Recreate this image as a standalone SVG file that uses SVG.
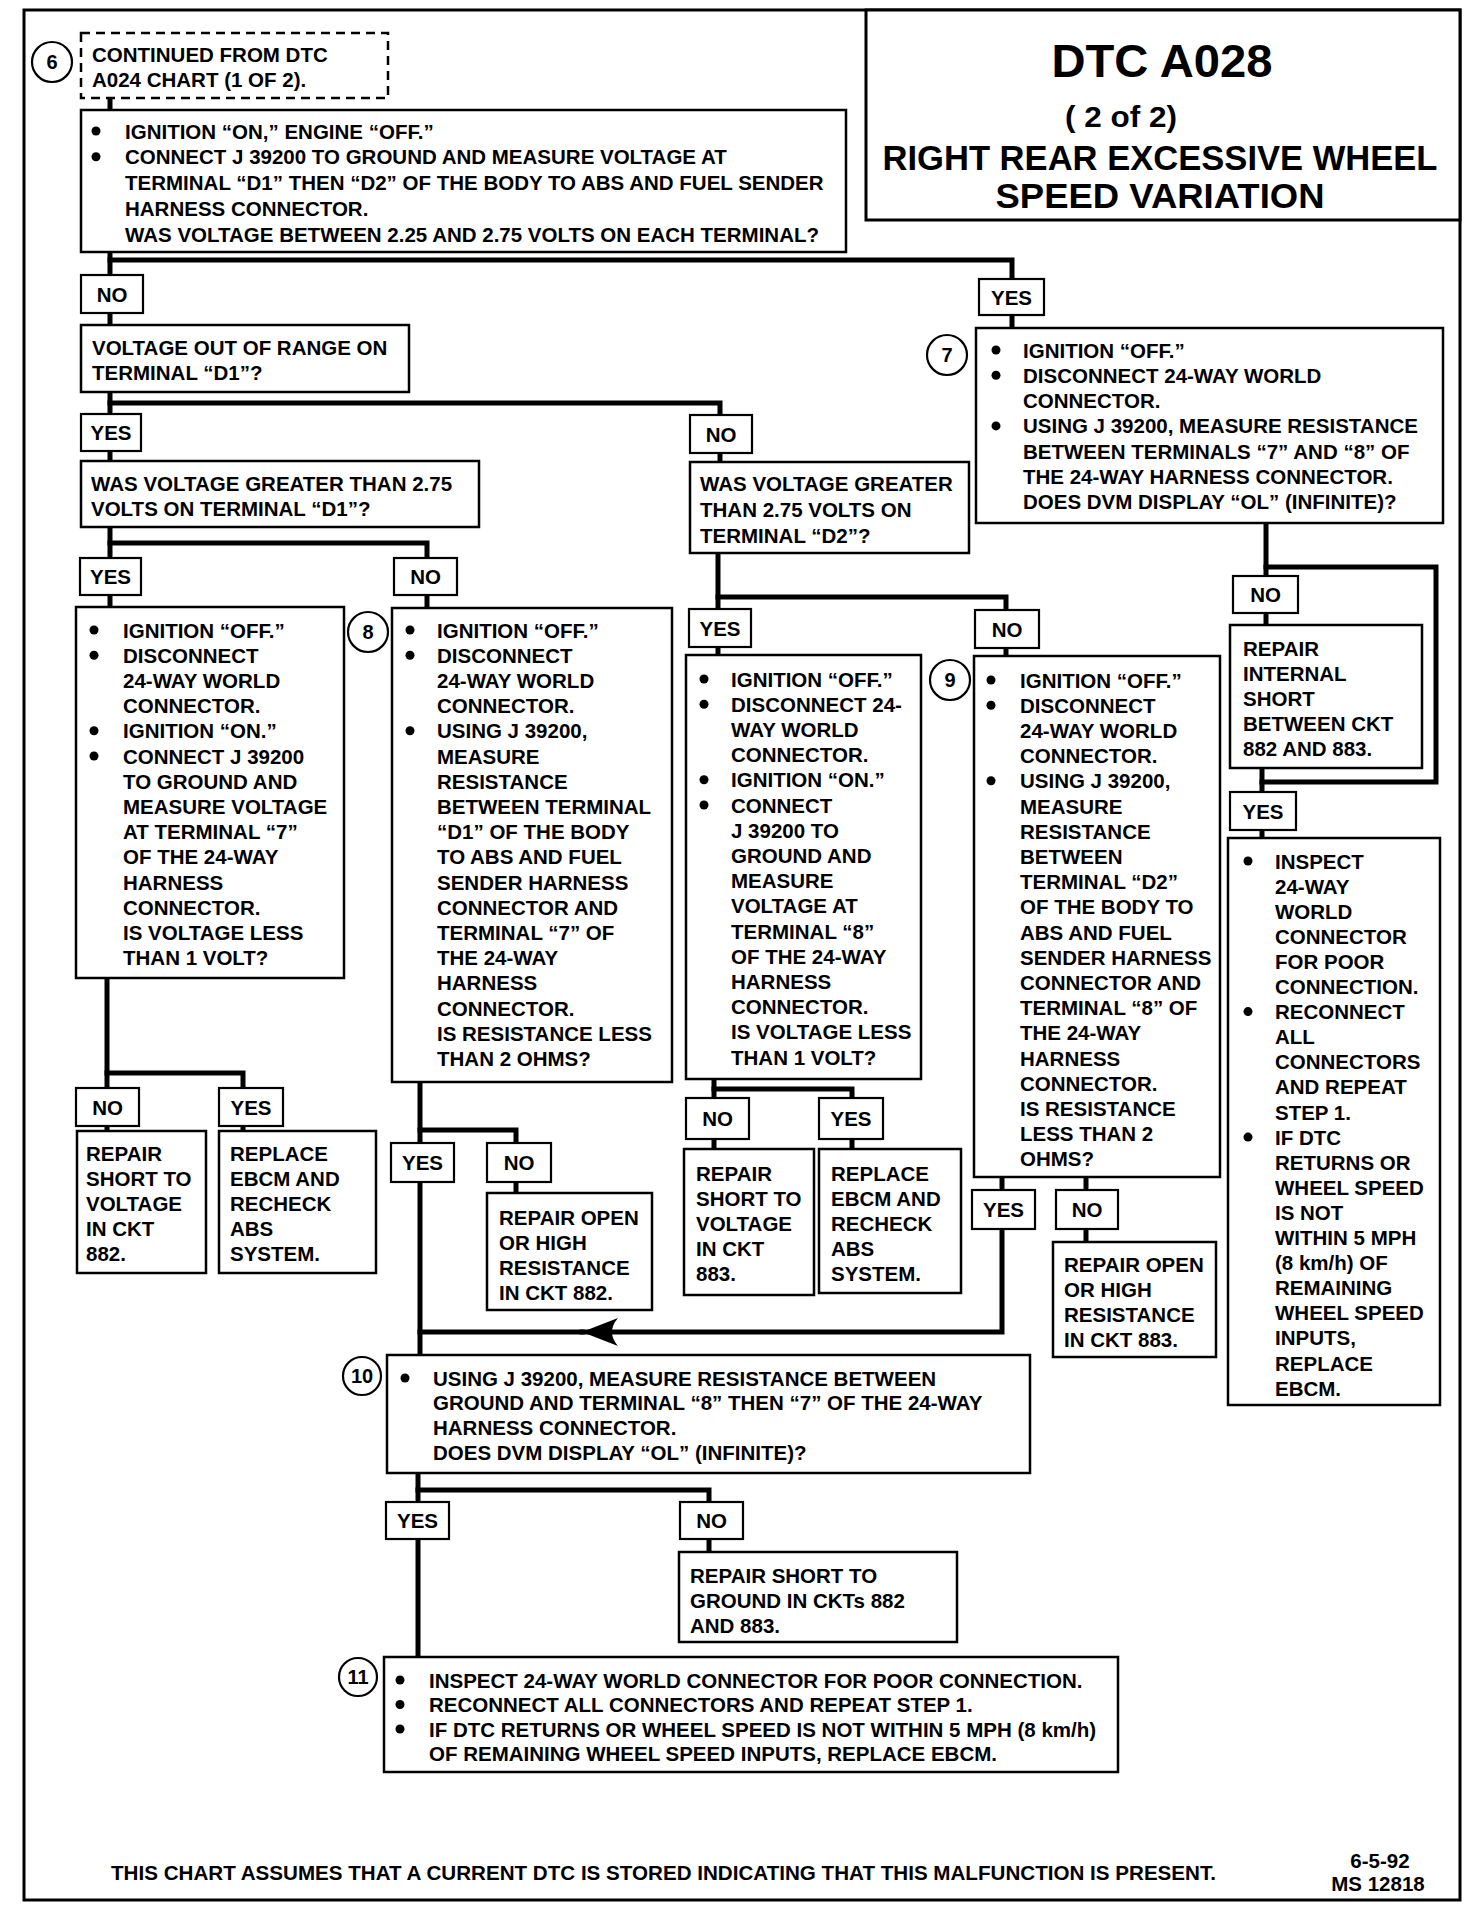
<svg xmlns="http://www.w3.org/2000/svg" width="1472" height="1914" viewBox="0 0 1472 1914">
<defs>
<style>
.box{fill:#fff;stroke:#000;stroke-width:2.5}
.dash{fill:#fff;stroke:#000;stroke-width:2.5;stroke-dasharray:9 6}
.lbl{fill:#fff;stroke:#000;stroke-width:2.2}
.cir{fill:#fff;stroke:#000;stroke-width:2.2}
.b{fill:#000}
.t{font-family:"Liberation Sans",Arial,sans-serif;font-weight:bold;font-size:20.5px;fill:#000}
.lt{font-family:"Liberation Sans",Arial,sans-serif;font-weight:bold;font-size:20.5px;fill:#000;text-anchor:middle}
.ct{font-family:"Liberation Sans",Arial,sans-serif;font-weight:bold;font-size:20px;fill:#000;text-anchor:middle}
.ti{font-family:"Liberation Sans",Arial,sans-serif;font-weight:bold;fill:#000;text-anchor:middle}
.conn{fill:none;stroke:#000;stroke-width:5;stroke-linecap:square}
</style>
<marker id="arr" markerUnits="userSpaceOnUse" markerWidth="40" markerHeight="32" viewBox="0 0 40 32" refX="38" refY="16" orient="auto">
<path d="M38,16 L2,2 Q14,16 2,30 Z" fill="#000"/>
</marker>
</defs>
<rect x="0" y="0" width="1472" height="1914" fill="#fff"/>
<rect x="24" y="10" width="1436" height="1890" fill="none" stroke="#000" stroke-width="3"/>

<g id="connectors">
<path class="conn" d="M110,98 V110"/>
<path class="conn" d="M110,252 V276"/>
<path class="conn" d="M110,260 H1012 V279"/>
<path class="conn" d="M1012,315 V328"/>
<path class="conn" d="M110,313 V325"/>
<path class="conn" d="M110,391 V414"/>
<path class="conn" d="M110,403 H720 V415"/>
<path class="conn" d="M110,450 V461"/>
<path class="conn" d="M720,453 V462"/>
<path class="conn" d="M110,527 V558"/>
<path class="conn" d="M110,543 H427 V558"/>
<path class="conn" d="M110,595 V607"/>
<path class="conn" d="M427,595 V608"/>
<path class="conn" d="M718,552 V609"/>
<path class="conn" d="M718,597 H1006 V610"/>
<path class="conn" d="M718,647 V656"/>
<path class="conn" d="M1006,648 V657"/>
<path class="conn" d="M1266,523 V576"/>
<path class="conn" d="M1266,567 H1436 V782 H1262"/>
<path class="conn" d="M1266,613 V625"/>
<path class="conn" d="M1262,768 V792"/>
<path class="conn" d="M1262,830 V838"/>
<path class="conn" d="M107,978 V1088"/>
<path class="conn" d="M107,1073 H243 V1088"/>
<path class="conn" d="M107,1126 V1131"/>
<path class="conn" d="M243,1126 V1131"/>
<path class="conn" d="M420,1082 V1143"/>
<path class="conn" d="M420,1130 H516 V1143"/>
<path class="conn" d="M516,1182 V1193"/>
<path class="conn" d="M420,1182 V1355"/>
<path class="conn" d="M1002,1229 V1332 H582" marker-end="url(#arr)"/>
<path class="conn" d="M582,1332 H420"/>
<path class="conn" d="M714,1079 V1098"/>
<path class="conn" d="M714,1089 H852 V1098"/>
<path class="conn" d="M714,1139 V1149"/>
<path class="conn" d="M852,1139 V1149"/>
<path class="conn" d="M1002,1177 V1190"/>
<path class="conn" d="M1086,1177 V1190"/>
<path class="conn" d="M1086,1229 V1242"/>
<path class="conn" d="M418,1473 V1502"/>
<path class="conn" d="M418,1490 H709 V1502"/>
<path class="conn" d="M709,1539 V1552"/>
<path class="conn" d="M418,1539 V1657"/>
</g>

<g id="title">
<rect x="866" y="10" width="594" height="210" fill="#fff" stroke="#000" stroke-width="3"/>
<text class="ti" x="1162" y="77" font-size="46" textLength="221" lengthAdjust="spacingAndGlyphs">DTC A028</text>
<text class="ti" x="1121" y="127" font-size="29" textLength="112" lengthAdjust="spacingAndGlyphs">( 2 of 2)</text>
<text class="ti" x="1160" y="170" font-size="35" textLength="555" lengthAdjust="spacingAndGlyphs">RIGHT REAR EXCESSIVE WHEEL</text>
<text class="ti" x="1160" y="208" font-size="35" textLength="329" lengthAdjust="spacingAndGlyphs">SPEED VARIATION</text>
</g>

<g id="step6">
<rect class="dash" x="81" y="33" width="307" height="65"/>
<circle class="cir" cx="52" cy="62" r="20"/>
<text class="ct" x="52" y="69">6</text>
<text class="t"><tspan x="92" y="62">CONTINUED FROM DTC</tspan><tspan x="92" y="86.5">A024 CHART (1 OF 2).</tspan></text>
</g>

<g id="n1">
<rect class="box" x="81" y="110" width="765" height="142"/>
<circle class="b" cx="96" cy="131" r="4.5"/>
<circle class="b" cx="96" cy="156.8" r="4.5"/>
<text class="t"><tspan x="125" y="138.5">IGNITION “ON,” ENGINE “OFF.”</tspan><tspan x="125" dy="25.8">CONNECT J 39200 TO GROUND AND MEASURE VOLTAGE AT</tspan><tspan x="125" dy="25.8">TERMINAL “D1” THEN “D2” OF THE BODY TO ABS AND FUEL SENDER</tspan><tspan x="125" dy="25.8">HARNESS CONNECTOR.</tspan><tspan x="125" dy="25.8">WAS VOLTAGE BETWEEN 2.25 AND 2.75 VOLTS ON EACH TERMINAL?</tspan></text>
</g>

<g id="l-no1"><rect class="lbl" x="81" y="275" width="62" height="38"/><text class="lt" x="112" y="301.5">NO</text></g>
<g id="l-yes1"><rect class="lbl" x="979" y="279" width="65" height="36"/><text class="lt" x="1011.5" y="304.5">YES</text></g>

<g id="n-d1range">
<rect class="box" x="81" y="325" width="328" height="67"/>
<text class="t"><tspan x="92" y="355">VOLTAGE OUT OF RANGE ON</tspan><tspan x="92" y="380">TERMINAL “D1”?</tspan></text>
</g>

<g id="step7">
<rect class="box" x="976" y="328" width="467" height="195"/>
<circle class="cir" cx="947" cy="355" r="20"/>
<text class="ct" x="947" y="362">7</text>
<circle class="b" cx="996" cy="350" r="4.5"/>
<circle class="b" cx="996" cy="375.3" r="4.5"/>
<circle class="b" cx="996" cy="425.9" r="4.5"/>
<text class="t"><tspan x="1023" y="357.5">IGNITION “OFF.”</tspan><tspan x="1023" dy="25.3">DISCONNECT 24-WAY WORLD</tspan><tspan x="1023" dy="25.3">CONNECTOR.</tspan><tspan x="1023" dy="25.3">USING J 39200, MEASURE RESISTANCE</tspan><tspan x="1023" dy="25.3">BETWEEN TERMINALS “7” AND “8” OF</tspan><tspan x="1023" dy="25.3">THE 24-WAY HARNESS CONNECTOR.</tspan><tspan x="1023" dy="25.3">DOES DVM DISPLAY “OL” (INFINITE)?</tspan></text>
</g>

<g id="l-yes2"><rect class="lbl" x="81" y="414" width="60" height="37"/><text class="lt" x="111" y="440">YES</text></g>
<g id="l-no2"><rect class="lbl" x="690" y="415" width="62" height="38"/><text class="lt" x="721" y="441.5">NO</text></g>

<g id="n-d1gt">
<rect class="box" x="81" y="461" width="398" height="66"/>
<text class="t"><tspan x="91" y="491">WAS VOLTAGE GREATER THAN 2.75</tspan><tspan x="91" y="516">VOLTS ON TERMINAL “D1”?</tspan></text>
</g>

<g id="n-d2gt">
<rect class="box" x="690" y="462" width="279" height="91"/>
<text class="t"><tspan x="700" y="491">WAS VOLTAGE GREATER</tspan><tspan x="700" dy="26">THAN 2.75 VOLTS ON</tspan><tspan x="700" dy="26">TERMINAL “D2”?</tspan></text>
</g>

<g id="l-yes3"><rect class="lbl" x="80" y="558" width="61" height="37"/><text class="lt" x="110.5" y="584">YES</text></g>
<g id="l-no3"><rect class="lbl" x="394" y="558" width="63" height="37"/><text class="lt" x="425.5" y="584">NO</text></g>
<g id="l-yes4"><rect class="lbl" x="689" y="609" width="62" height="38"/><text class="lt" x="720" y="635.5">YES</text></g>
<g id="l-no4"><rect class="lbl" x="975" y="610" width="64" height="38"/><text class="lt" x="1007" y="636.5">NO</text></g>
<g id="l-no5"><rect class="lbl" x="1233" y="576" width="65" height="37"/><text class="lt" x="1265.5" y="602">NO</text></g>

<g id="n-ign7">
<rect class="box" x="76" y="607" width="268" height="371"/>
<circle class="b" cx="94" cy="630" r="4.5"/>
<circle class="b" cx="94" cy="655.2" r="4.5"/>
<circle class="b" cx="94" cy="730.8" r="4.5"/>
<circle class="b" cx="94" cy="756" r="4.5"/>
<text class="t"><tspan x="123" y="637.5">IGNITION “OFF.”</tspan><tspan x="123" dy="25.2">DISCONNECT</tspan><tspan x="123" dy="25.2">24-WAY WORLD</tspan><tspan x="123" dy="25.2">CONNECTOR.</tspan><tspan x="123" dy="25.2">IGNITION “ON.”</tspan><tspan x="123" dy="25.2">CONNECT J 39200</tspan><tspan x="123" dy="25.2">TO GROUND AND</tspan><tspan x="123" dy="25.2">MEASURE VOLTAGE</tspan><tspan x="123" dy="25.2">AT TERMINAL “7”</tspan><tspan x="123" dy="25.2">OF THE 24-WAY</tspan><tspan x="123" dy="25.2">HARNESS</tspan><tspan x="123" dy="25.2">CONNECTOR.</tspan><tspan x="123" dy="25.2">IS VOLTAGE LESS</tspan><tspan x="123" dy="25.2">THAN 1 VOLT?</tspan></text>
</g>

<g id="step8">
<rect class="box" x="392" y="608" width="280" height="474"/>
<circle class="cir" cx="368" cy="632" r="20"/>
<text class="ct" x="368" y="639">8</text>
<circle class="b" cx="410" cy="630" r="4.5"/>
<circle class="b" cx="410" cy="655.2" r="4.5"/>
<circle class="b" cx="410" cy="730.8" r="4.5"/>
<text class="t"><tspan x="437" y="637.5">IGNITION “OFF.”</tspan><tspan x="437" dy="25.2">DISCONNECT</tspan><tspan x="437" dy="25.2">24-WAY WORLD</tspan><tspan x="437" dy="25.2">CONNECTOR.</tspan><tspan x="437" dy="25.2">USING J 39200,</tspan><tspan x="437" dy="25.2">MEASURE</tspan><tspan x="437" dy="25.2">RESISTANCE</tspan><tspan x="437" dy="25.2">BETWEEN TERMINAL</tspan><tspan x="437" dy="25.2">“D1” OF THE BODY</tspan><tspan x="437" dy="25.2">TO ABS AND FUEL</tspan><tspan x="437" dy="25.2">SENDER HARNESS</tspan><tspan x="437" dy="25.2">CONNECTOR AND</tspan><tspan x="437" dy="25.2">TERMINAL “7” OF</tspan><tspan x="437" dy="25.2">THE 24-WAY</tspan><tspan x="437" dy="25.2">HARNESS</tspan><tspan x="437" dy="25.2">CONNECTOR.</tspan><tspan x="437" dy="25.2">IS RESISTANCE LESS</tspan><tspan x="437" dy="25.2">THAN 2 OHMS?</tspan></text>
</g>

<g id="n-ign8">
<rect class="box" x="686" y="655" width="235" height="424"/>
<circle class="b" cx="704" cy="679" r="4.5"/>
<circle class="b" cx="704" cy="704.2" r="4.5"/>
<circle class="b" cx="704" cy="779.8" r="4.5"/>
<circle class="b" cx="704" cy="805" r="4.5"/>
<text class="t"><tspan x="731" y="686.5">IGNITION “OFF.”</tspan><tspan x="731" dy="25.2">DISCONNECT 24-</tspan><tspan x="731" dy="25.2">WAY WORLD</tspan><tspan x="731" dy="25.2">CONNECTOR.</tspan><tspan x="731" dy="25.2">IGNITION “ON.”</tspan><tspan x="731" dy="25.2">CONNECT</tspan><tspan x="731" dy="25.2">J 39200 TO</tspan><tspan x="731" dy="25.2">GROUND AND</tspan><tspan x="731" dy="25.2">MEASURE</tspan><tspan x="731" dy="25.2">VOLTAGE AT</tspan><tspan x="731" dy="25.2">TERMINAL “8”</tspan><tspan x="731" dy="25.2">OF THE 24-WAY</tspan><tspan x="731" dy="25.2">HARNESS</tspan><tspan x="731" dy="25.2">CONNECTOR.</tspan><tspan x="731" dy="25.2">IS VOLTAGE LESS</tspan><tspan x="731" dy="25.2">THAN 1 VOLT?</tspan></text>
</g>

<g id="step9">
<rect class="box" x="974" y="656" width="246" height="521"/>
<circle class="cir" cx="950" cy="680" r="20"/>
<text class="ct" x="950" y="687">9</text>
<circle class="b" cx="991" cy="680" r="4.5"/>
<circle class="b" cx="991" cy="705.2" r="4.5"/>
<circle class="b" cx="991" cy="780.8" r="4.5"/>
<text class="t"><tspan x="1020" y="687.5">IGNITION “OFF.”</tspan><tspan x="1020" dy="25.2">DISCONNECT</tspan><tspan x="1020" dy="25.2">24-WAY WORLD</tspan><tspan x="1020" dy="25.2">CONNECTOR.</tspan><tspan x="1020" dy="25.2">USING J 39200,</tspan><tspan x="1020" dy="25.2">MEASURE</tspan><tspan x="1020" dy="25.2">RESISTANCE</tspan><tspan x="1020" dy="25.2">BETWEEN</tspan><tspan x="1020" dy="25.2">TERMINAL “D2”</tspan><tspan x="1020" dy="25.2">OF THE BODY TO</tspan><tspan x="1020" dy="25.2">ABS AND FUEL</tspan><tspan x="1020" dy="25.2">SENDER HARNESS</tspan><tspan x="1020" dy="25.2">CONNECTOR AND</tspan><tspan x="1020" dy="25.2">TERMINAL “8” OF</tspan><tspan x="1020" dy="25.2">THE 24-WAY</tspan><tspan x="1020" dy="25.2">HARNESS</tspan><tspan x="1020" dy="25.2">CONNECTOR.</tspan><tspan x="1020" dy="25.2">IS RESISTANCE</tspan><tspan x="1020" dy="25.2">LESS THAN 2</tspan><tspan x="1020" dy="25.2">OHMS?</tspan></text>
</g>

<g id="n-internal">
<rect class="box" x="1230" y="625" width="192" height="143"/>
<text class="t"><tspan x="1243" y="655.5">REPAIR</tspan><tspan x="1243" dy="25">INTERNAL</tspan><tspan x="1243" dy="25">SHORT</tspan><tspan x="1243" dy="25">BETWEEN CKT</tspan><tspan x="1243" dy="25">882 AND 883.</tspan></text>
</g>

<g id="l-yes5"><rect class="lbl" x="1230" y="792" width="66" height="38"/><text class="lt" x="1263" y="818.5">YES</text></g>

<g id="n-inspect-r">
<rect class="box" x="1228" y="838" width="212" height="567"/>
<circle class="b" cx="1248" cy="861" r="4.5"/>
<circle class="b" cx="1248" cy="1011.6" r="4.5"/>
<circle class="b" cx="1248" cy="1137.1" r="4.5"/>
<text class="t"><tspan x="1275" y="868.5">INSPECT</tspan><tspan x="1275" dy="25.1">24-WAY</tspan><tspan x="1275" dy="25.1">WORLD</tspan><tspan x="1275" dy="25.1">CONNECTOR</tspan><tspan x="1275" dy="25.1">FOR POOR</tspan><tspan x="1275" dy="25.1">CONNECTION.</tspan><tspan x="1275" dy="25.1">RECONNECT</tspan><tspan x="1275" dy="25.1">ALL</tspan><tspan x="1275" dy="25.1">CONNECTORS</tspan><tspan x="1275" dy="25.1">AND REPEAT</tspan><tspan x="1275" dy="25.1">STEP 1.</tspan><tspan x="1275" dy="25.1">IF DTC</tspan><tspan x="1275" dy="25.1">RETURNS OR</tspan><tspan x="1275" dy="25.1">WHEEL SPEED</tspan><tspan x="1275" dy="25.1">IS NOT</tspan><tspan x="1275" dy="25.1">WITHIN 5 MPH</tspan><tspan x="1275" dy="25.1">(8 km/h) OF</tspan><tspan x="1275" dy="25.1">REMAINING</tspan><tspan x="1275" dy="25.1">WHEEL SPEED</tspan><tspan x="1275" dy="25.1">INPUTS,</tspan><tspan x="1275" dy="25.1">REPLACE</tspan><tspan x="1275" dy="25.1">EBCM.</tspan></text>
</g>

<g id="l-no6"><rect class="lbl" x="76" y="1088" width="63" height="38"/><text class="lt" x="107.5" y="1114.5">NO</text></g>
<g id="l-yes6"><rect class="lbl" x="219" y="1088" width="64" height="38"/><text class="lt" x="251" y="1114.5">YES</text></g>

<g id="n-short882">
<rect class="box" x="77" y="1131" width="129" height="142"/>
<text class="t"><tspan x="86" y="1160.5">REPAIR</tspan><tspan x="86" dy="25.2">SHORT TO</tspan><tspan x="86" dy="25.2">VOLTAGE</tspan><tspan x="86" dy="25.2">IN CKT</tspan><tspan x="86" dy="25.2">882.</tspan></text>
</g>

<g id="n-replace1">
<rect class="box" x="219" y="1131" width="157" height="142"/>
<text class="t"><tspan x="230" y="1160.5">REPLACE</tspan><tspan x="230" dy="25.2">EBCM AND</tspan><tspan x="230" dy="25.2">RECHECK</tspan><tspan x="230" dy="25.2">ABS</tspan><tspan x="230" dy="25.2">SYSTEM.</tspan></text>
</g>

<g id="l-yes7"><rect class="lbl" x="391" y="1143" width="63" height="39"/><text class="lt" x="422.5" y="1170">YES</text></g>
<g id="l-no7"><rect class="lbl" x="487" y="1143" width="64" height="39"/><text class="lt" x="519" y="1170">NO</text></g>

<g id="n-open882">
<rect class="box" x="487" y="1193" width="165" height="117"/>
<text class="t"><tspan x="499" y="1224.5">REPAIR OPEN</tspan><tspan x="499" dy="25.2">OR HIGH</tspan><tspan x="499" dy="25.2">RESISTANCE</tspan><tspan x="499" dy="25.2">IN CKT 882.</tspan></text>
</g>

<g id="l-no8"><rect class="lbl" x="686" y="1098" width="63" height="41"/><text class="lt" x="717.5" y="1126">NO</text></g>
<g id="l-yes8"><rect class="lbl" x="819" y="1098" width="64" height="41"/><text class="lt" x="851" y="1126">YES</text></g>

<g id="n-short883">
<rect class="box" x="684" y="1149" width="130" height="146"/>
<text class="t"><tspan x="696" y="1180.5">REPAIR</tspan><tspan x="696" dy="25.2">SHORT TO</tspan><tspan x="696" dy="25.2">VOLTAGE</tspan><tspan x="696" dy="25.2">IN CKT</tspan><tspan x="696" dy="25.2">883.</tspan></text>
</g>

<g id="n-replace2">
<rect class="box" x="819" y="1149" width="142" height="144"/>
<text class="t"><tspan x="831" y="1180.5">REPLACE</tspan><tspan x="831" dy="25.2">EBCM AND</tspan><tspan x="831" dy="25.2">RECHECK</tspan><tspan x="831" dy="25.2">ABS</tspan><tspan x="831" dy="25.2">SYSTEM.</tspan></text>
</g>

<g id="l-yes9"><rect class="lbl" x="972" y="1190" width="63" height="39"/><text class="lt" x="1003.5" y="1217">YES</text></g>
<g id="l-no9"><rect class="lbl" x="1056" y="1190" width="62" height="39"/><text class="lt" x="1087" y="1217">NO</text></g>

<g id="n-open883">
<rect class="box" x="1053" y="1242" width="163" height="115"/>
<text class="t"><tspan x="1064" y="1271.5">REPAIR OPEN</tspan><tspan x="1064" dy="25">OR HIGH</tspan><tspan x="1064" dy="25">RESISTANCE</tspan><tspan x="1064" dy="25">IN CKT 883.</tspan></text>
</g>

<g id="step10">
<rect class="box" x="387" y="1355" width="643" height="118"/>
<circle class="cir" cx="362" cy="1376" r="19"/>
<text class="ct" x="362" y="1383">10</text>
<circle class="b" cx="405" cy="1378" r="4.5"/>
<text class="t"><tspan x="433" y="1385.5">USING J 39200, MEASURE RESISTANCE BETWEEN</tspan><tspan x="433" dy="24.8">GROUND AND TERMINAL “8” THEN “7” OF THE 24-WAY</tspan><tspan x="433" dy="24.8">HARNESS CONNECTOR.</tspan><tspan x="433" dy="24.8">DOES DVM DISPLAY “OL” (INFINITE)?</tspan></text>
</g>

<g id="l-yes10"><rect class="lbl" x="386" y="1502" width="63" height="37"/><text class="lt" x="417.5" y="1528">YES</text></g>
<g id="l-no10"><rect class="lbl" x="680" y="1502" width="63" height="37"/><text class="lt" x="711.5" y="1528">NO</text></g>

<g id="n-ground">
<rect class="box" x="679" y="1552" width="278" height="90"/>
<text class="t"><tspan x="690" y="1582.5">REPAIR SHORT TO</tspan><tspan x="690" dy="25">GROUND IN CKTs 882</tspan><tspan x="690" dy="25">AND 883.</tspan></text>
</g>

<g id="step11">
<rect class="box" x="384" y="1657" width="734" height="115"/>
<circle class="cir" cx="358" cy="1677" r="19"/>
<text class="ct" x="358" y="1684">11</text>
<circle class="b" cx="400" cy="1680" r="4.5"/>
<circle class="b" cx="400" cy="1704.5" r="4.5"/>
<circle class="b" cx="400" cy="1729" r="4.5"/>
<text class="t"><tspan x="429" y="1687.5">INSPECT 24-WAY WORLD CONNECTOR FOR POOR CONNECTION.</tspan><tspan x="429" dy="24.5">RECONNECT ALL CONNECTORS AND REPEAT STEP 1.</tspan><tspan x="429" dy="24.5">IF DTC RETURNS OR WHEEL SPEED IS NOT WITHIN 5 MPH (8 km/h)</tspan><tspan x="429" dy="24.5">OF REMAINING WHEEL SPEED INPUTS, REPLACE EBCM.</tspan></text>
</g>

<g id="footer">
<text class="t" x="111" y="1880" font-size="20" textLength="1105" lengthAdjust="spacingAndGlyphs">THIS CHART ASSUMES THAT A CURRENT DTC IS STORED INDICATING THAT THIS MALFUNCTION IS PRESENT.</text>
<text class="lt" x="1380" y="1868" font-size="20">6-5-92</text>
<text class="lt" x="1378" y="1891" font-size="20">MS 12818</text>
</g>
</svg>
